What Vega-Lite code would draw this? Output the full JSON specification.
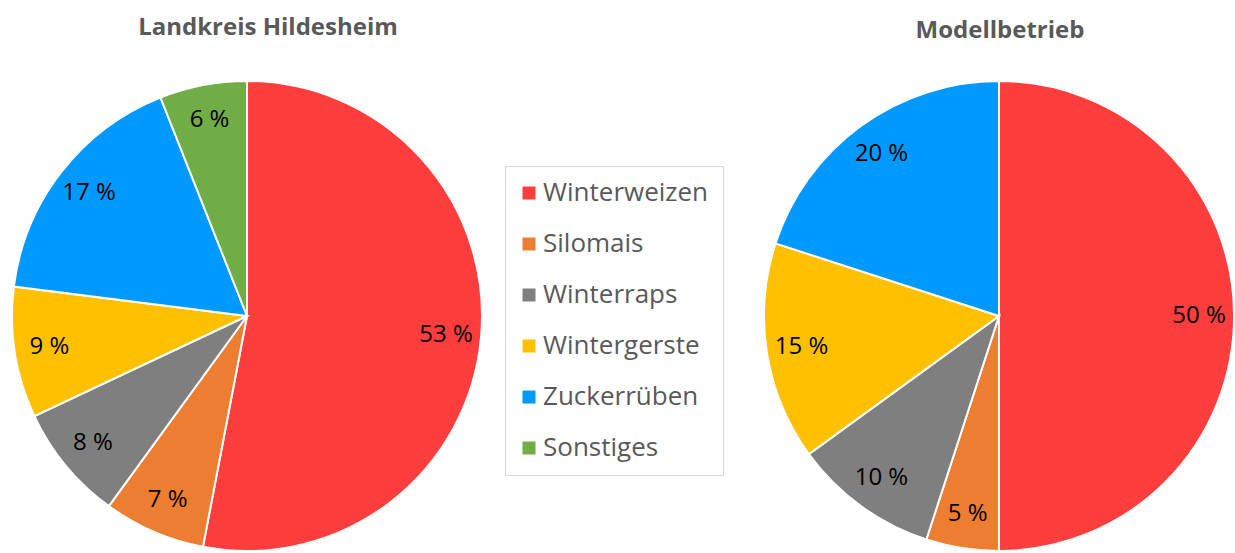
{
  "$schema": "https://vega.github.io/schema/vega-lite/v6.json",
  "padding": {"top": 16, "left": 0, "right": 0, "bottom": 0},
  "spacing": 266,
  "background": "white",
  "config": {
    "view": {"stroke": null},
    "font": "Open Sans",
    "title": {"font": "Open Sans", "fontSize": 24, "fontWeight": "bold", "color": "#595959", "baseline": "alphabetic", "anchor": "middle"}
  },
  "datasets": {
    "kreis": [
      {"crop": "Winterweizen", "pct": 53, "label": "53 %", "idx": 1},
      {"crop": "Silomais", "pct": 7, "label": "7 %", "idx": 2},
      {"crop": "Winterraps", "pct": 8, "label": "8 %", "idx": 3},
      {"crop": "Wintergerste", "pct": 9, "label": "9 %", "idx": 4},
      {"crop": "Zuckerrüben", "pct": 17, "label": "17 %", "idx": 5},
      {"crop": "Sonstiges", "pct": 6, "label": "6 %", "idx": 6}
    ],
    "betrieb": [
      {"crop": "Winterweizen", "pct": 50, "label": "50 %", "idx": 1},
      {"crop": "Silomais", "pct": 5, "label": "5 %", "idx": 2},
      {"crop": "Winterraps", "pct": 10, "label": "10 %", "idx": 3},
      {"crop": "Wintergerste", "pct": 15, "label": "15 %", "idx": 4},
      {"crop": "Zuckerrüben", "pct": 20, "label": "20 %", "idx": 5}
    ]
  },
  "hconcat": [
    {
      "width": 494,
      "height": 470,
      "title": {"text": "Landkreis Hildesheim", "offset": 37, "dx": 21},
      "data": {"name": "kreis"},
      "encoding": {
        "theta": {"field": "pct", "type": "quantitative", "stack": true},
        "order": {"field": "idx", "type": "quantitative", "sort": "ascending"}
      },
      "layer": [
        {
          "mark": {"type": "arc", "outerRadius": 235, "stroke": "white", "strokeWidth": 2},
          "encoding": {
            "color": {
              "field": "crop", "type": "nominal",
              "scale": {"domain": ["Winterweizen", "Silomais", "Winterraps", "Wintergerste", "Zuckerrüben", "Sonstiges"],
                        "range": ["#FF3D3D", "#ED7D31", "#7F7F7F", "#FFC000", "#0099FF", "#70AD47"]},
              "legend": {"title": null, "orient": "none", "legendX": 505, "legendY": 85, "symbolType": "square", "symbolSize": 169, "symbolStrokeWidth": 0, "symbolOffset": -3, "labelFont": "Open Sans", "labelFontSize": 26, "labelColor": "#595959", "labelOffset": 1, "labelLimit": 300, "rowPadding": 25, "padding": 14, "strokeColor": "#d9d9d9", "fillColor": "white", "cornerRadius": 0}
            }
          }
        },
        {
          "mark": {"type": "text", "radius": 200, "fontSize": 24, "color": "black", "font": "Open Sans"},
          "encoding": {"text": {"field": "label", "type": "nominal"}}
        }
      ]
    },
    {
      "width": 470,
      "height": 470,
      "title": {"text": "Modellbetrieb", "offset": 34, "dx": 1},
      "data": {"name": "betrieb"},
      "encoding": {
        "theta": {"field": "pct", "type": "quantitative", "stack": true},
        "order": {"field": "idx", "type": "quantitative", "sort": "ascending"}
      },
      "layer": [
        {
          "mark": {"type": "arc", "outerRadius": 235, "stroke": "white", "strokeWidth": 2},
          "encoding": {
            "color": {
              "field": "crop", "type": "nominal",
              "scale": {"domain": ["Winterweizen", "Silomais", "Winterraps", "Wintergerste", "Zuckerrüben", "Sonstiges"],
                        "range": ["#FF3D3D", "#ED7D31", "#7F7F7F", "#FFC000", "#0099FF", "#70AD47"]},
              "legend": {"title": null, "orient": "none", "legendX": 505, "legendY": 85, "symbolType": "square", "symbolSize": 169, "symbolStrokeWidth": 0, "symbolOffset": -3, "labelFont": "Open Sans", "labelFontSize": 26, "labelColor": "#595959", "labelOffset": 1, "labelLimit": 300, "rowPadding": 25, "padding": 14, "strokeColor": "#d9d9d9", "fillColor": "white", "cornerRadius": 0}
            }
          }
        },
        {
          "mark": {"type": "text", "radius": 200, "fontSize": 24, "color": "black", "font": "Open Sans"},
          "encoding": {"text": {"field": "label", "type": "nominal"}}
        }
      ]
    }
  ],
  "resolve": {"scale": {"color": "shared"}}
}
